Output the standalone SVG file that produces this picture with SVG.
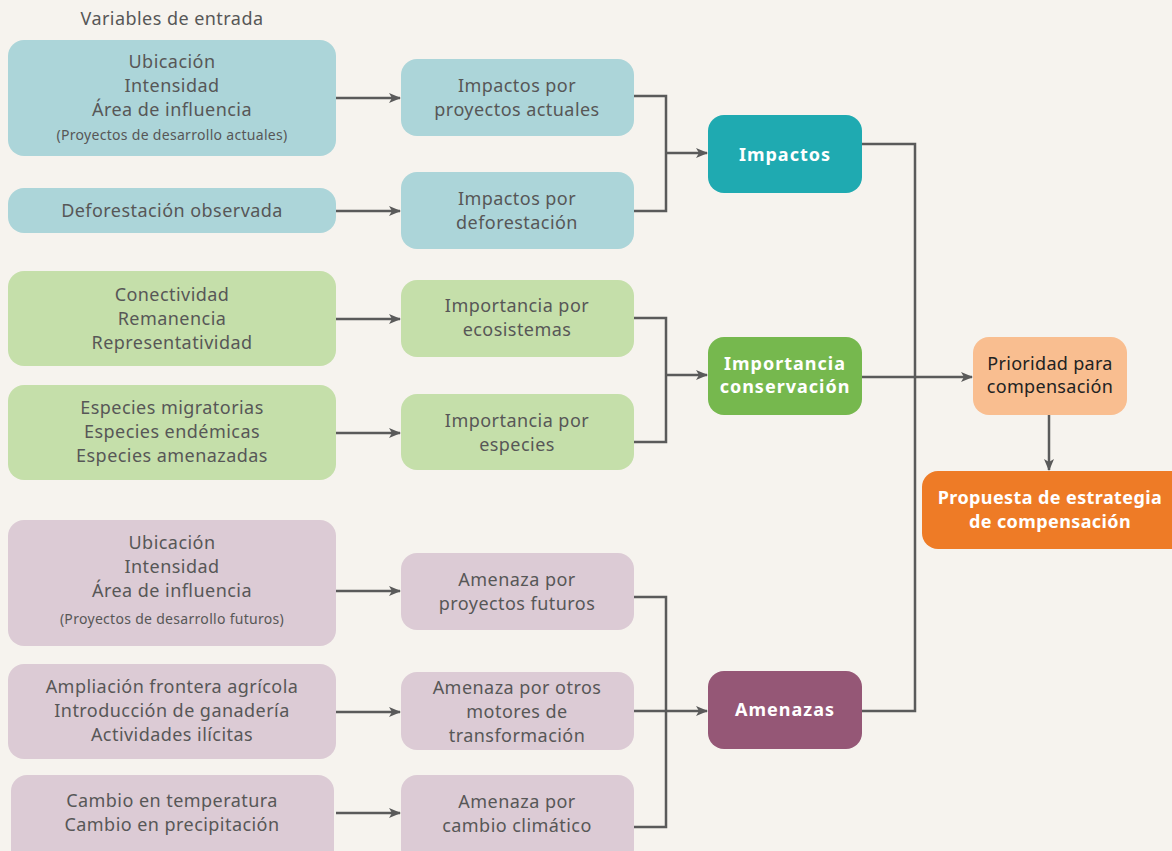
<svg xmlns="http://www.w3.org/2000/svg" width="1172" height="851" viewBox="0 0 1172 851">
<defs>
<marker id="ah" markerWidth="12" markerHeight="10" refX="11" refY="5" orient="auto" markerUnits="userSpaceOnUse">
<path d="M0,0 L12,5 L0,10 L3,5 Z" fill="#5a5a5a"/>
</marker>
<style>
.t{font-family:"Noto Sans","Liberation Sans",sans-serif;font-size:18px;fill:#575757;text-anchor:middle;letter-spacing:0.45px}
.s{font-size:14px;letter-spacing:0.3px}
.w{font-family:"Noto Sans","Liberation Sans",sans-serif;font-size:18px;font-weight:bold;fill:#fff;text-anchor:middle;letter-spacing:1px}
.d{font-family:"Noto Sans","Liberation Sans",sans-serif;font-size:18px;fill:#222;text-anchor:middle;letter-spacing:0.3px}
.b{fill:#acd5d9}.g{fill:#c5dfaa}.p{fill:#dccbd5}
.ln{fill:none;stroke:#5a5a5a;stroke-width:2.5}
.ar{fill:none;stroke:#5a5a5a;stroke-width:2.5;marker-end:url(#ah)}
</style>
</defs>
<rect width="1172" height="851" fill="#f6f3ee"/>
<text class="t" x="172" y="25">Variables de entrada</text>

<g id="in1"><rect class="b" x="8" y="40" width="328" height="116" rx="16"/>
<text class="t" x="172" y="68">Ubicación</text><text class="t" x="172" y="92">Intensidad</text><text class="t" x="172" y="116">Área de influencia</text><text class="t s" x="172" y="140">(Proyectos de desarrollo actuales)</text></g>
<g id="in2"><rect class="b" x="8" y="188" width="328" height="45" rx="16"/>
<text class="t" x="172" y="217">Deforestación observada</text></g>
<g id="in3"><rect class="g" x="8" y="271" width="328" height="95" rx="16"/>
<text class="t" x="172" y="301">Conectividad</text><text class="t" x="172" y="325">Remanencia</text><text class="t" x="172" y="349">Representatividad</text></g>
<g id="in4"><rect class="g" x="8" y="385" width="328" height="95" rx="16"/>
<text class="t" x="172" y="414">Especies migratorias</text><text class="t" x="172" y="438">Especies endémicas</text><text class="t" x="172" y="462">Especies amenazadas</text></g>
<g id="in5"><rect class="p" x="8" y="520" width="328" height="126" rx="16"/>
<text class="t" x="172" y="549">Ubicación</text><text class="t" x="172" y="573">Intensidad</text><text class="t" x="172" y="597">Área de influencia</text><text class="t s" x="172" y="624">(Proyectos de desarrollo futuros)</text></g>
<g id="in6"><rect class="p" x="8" y="664" width="328" height="95" rx="16"/>
<text class="t" x="172" y="693">Ampliación frontera agrícola</text><text class="t" x="172" y="717">Introducción de ganadería</text><text class="t" x="172" y="741">Actividades ilícitas</text></g>
<g id="in7"><rect class="p" x="11" y="775" width="323" height="95" rx="16"/>
<text class="t" x="172" y="807">Cambio en temperatura</text><text class="t" x="172" y="831">Cambio en precipitación</text></g>

<g id="m1"><rect class="b" x="401" y="59" width="233" height="77" rx="16"/>
<text class="t" x="517" y="92">Impactos por</text><text class="t" x="517" y="116">proyectos actuales</text></g>
<g id="m2"><rect class="b" x="401" y="172" width="233" height="77" rx="16"/>
<text class="t" x="517" y="205">Impactos por</text><text class="t" x="517" y="229">deforestación</text></g>
<g id="m3"><rect class="g" x="401" y="280" width="233" height="77" rx="16"/>
<text class="t" x="517" y="312">Importancia por</text><text class="t" x="517" y="336">ecosistemas</text></g>
<g id="m4"><rect class="g" x="401" y="394" width="233" height="76" rx="16"/>
<text class="t" x="517" y="427">Importancia por</text><text class="t" x="517" y="451">especies</text></g>
<g id="m5"><rect class="p" x="401" y="553" width="233" height="77" rx="16"/>
<text class="t" x="517" y="586">Amenaza por</text><text class="t" x="517" y="610">proyectos futuros</text></g>
<g id="m6"><rect class="p" x="401" y="672" width="233" height="78" rx="16"/>
<text class="t" x="517" y="694">Amenaza por otros</text><text class="t" x="517" y="718">motores de</text><text class="t" x="517" y="742">transformación</text></g>
<g id="m7"><rect class="p" x="401" y="775" width="233" height="90" rx="16"/>
<text class="t" x="517" y="808">Amenaza por</text><text class="t" x="517" y="832">cambio climático</text></g>

<g id="r1"><rect fill="#1faab1" x="708" y="115" width="154" height="78" rx="16"/>
<text class="w" x="785" y="161">Impactos</text></g>
<g id="r2"><rect fill="#76b84e" x="708" y="337" width="154" height="78" rx="16"/>
<text class="w" x="785" y="370">Importancia</text><text class="w" x="785" y="393">conservación</text></g>
<g id="r3"><rect fill="#955776" x="708" y="671" width="154" height="78" rx="16"/>
<text class="w" x="785" y="716">Amenazas</text></g>

<g id="prio"><rect fill="#f9be90" x="973" y="337" width="154" height="78" rx="16"/>
<text class="d" x="1050" y="370">Prioridad para</text><text class="d" x="1050" y="393">compensación</text></g>
<g id="prop"><rect fill="#ee7b26" x="922" y="471" width="270" height="78" rx="16"/>
<text class="w" x="1050" y="504" style="letter-spacing:0.4px">Propuesta de estrategia</text><text class="w" x="1050" y="528" style="letter-spacing:0.4px">de compensación</text></g>

<g id="connectors">
<path class="ar" d="M336,98 H400"/>
<path class="ar" d="M336,211 H400"/>
<path class="ar" d="M336,319 H400"/>
<path class="ar" d="M336,433 H400"/>
<path class="ar" d="M336,591 H400"/>
<path class="ar" d="M336,712 H400"/>
<path class="ar" d="M336,813 H400"/>
<path class="ln" d="M634,96 H666 V211 H634"/>
<path class="ar" d="M666,153 H707"/>
<path class="ln" d="M634,318 H666 V442 H634"/>
<path class="ar" d="M666,375 H707"/>
<path class="ln" d="M634,597 H666 V827 H634"/>
<path class="ar" d="M634,711 H707"/>
<path class="ln" d="M862,144 H915 V711 H862"/>
<path class="ar" d="M862,377 H972"/>
<path class="ar" d="M1049,415 V470"/>
</g>
</svg>
